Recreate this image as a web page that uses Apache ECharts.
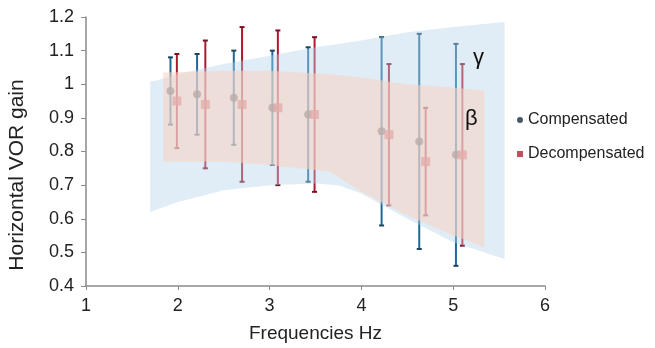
<!DOCTYPE html>
<html>
<head>
<meta charset="utf-8">
<script src="https://cdn.jsdelivr.net/npm/echarts@6/dist/echarts.min.js"></script>
<style>
  html, body { margin: 0; padding: 0; background: #fff; }
  #chart { width: 655px; height: 348px; }
</style>
</head>
<body>
<div id="chart"></div>
<script>
// error bars
const freqComp = [1.92, 2.21, 2.61, 3.03, 3.42, 4.22, 4.63, 5.03];
const meanComp = [0.98, 0.97, 0.96, 0.93, 0.91, 0.86, 0.83, 0.79];
const lowComp = [0.88, 0.85, 0.82, 0.76, 0.71, 0.58, 0.51, 0.46];
const highComp = [1.08, 1.09, 1.10, 1.10, 1.11, 1.14, 1.15, 1.12];

const freqDecomp = [1.99, 2.30, 2.70, 3.09, 3.49, 4.30, 4.70, 5.10];
const meanDecomp = [0.95, 0.94, 0.94, 0.93, 0.91, 0.85, 0.77, 0.79];
const lowDecomp = [0.81, 0.75, 0.71, 0.70, 0.68, 0.64, 0.61, 0.52];
const highDecomp = [1.09, 1.13, 1.17, 1.16, 1.14, 1.06, 0.93, 1.06];

// shaded bands (gamma = blue, beta = orange)
const gammaX = [1.70, 1.78, 2.0, 2.5, 3.0, 3.5, 3.75, 4.0, 4.5, 5.0, 5.56];
const gammaTop = [1.008, 1.012, 1.03, 1.06, 1.085, 1.11, 1.12, 1.13, 1.155, 1.17, 1.185];
const gammaBottom = [0.62, 0.628, 0.65, 0.685, 0.70, 0.705, 0.70, 0.675, 0.60, 0.53, 0.48];

const betaX = [1.84, 2.5, 3.0, 3.66, 4.0, 4.5, 5.0, 5.34];
const betaTop = [1.035, 1.04, 1.04, 1.03, 1.02, 1.0, 0.99, 0.98];
const betaBottom = [0.77, 0.77, 0.76, 0.74, 0.68, 0.61, 0.55, 0.515];

const xTicks = [1, 2, 3, 4, 5, 6];
const seriesNames = ['Compensated', 'Decompensated'];

const font = 'Liberation Sans';

function barData(xs, lows, highs) {
  return xs.map((x, i) => [x, lows[i], highs[i]]);
}

function renderErrorBar(color, capColor) {
  return function (params, api) {
    const x = api.value(0);
    const top = api.coord([x, api.value(2)]);
    const bot = api.coord([x, api.value(1)]);
    const cw = 2.5;
    return {
      type: 'group',
      children: [
        {type: 'line', shape: {x1: top[0], y1: top[1], x2: bot[0], y2: bot[1]},
          style: {stroke: color, lineWidth: 2}},
        {type: 'line', shape: {x1: top[0] - cw, y1: top[1], x2: top[0] + cw, y2: top[1]},
          style: {stroke: capColor, lineWidth: 2}},
        {type: 'line', shape: {x1: bot[0] - cw, y1: bot[1], x2: bot[0] + cw, y2: bot[1]},
          style: {stroke: capColor, lineWidth: 2}}
      ]
    };
  };
}

function renderBand(xs, tops, bottoms, fill) {
  return function (params, api) {
    if (params.dataIndex !== 0) return null;
    const pts = [];
    for (let i = 0; i < xs.length; i++) pts.push(api.coord([xs[i], tops[i]]));
    for (let i = xs.length - 1; i >= 0; i--) pts.push(api.coord([xs[i], bottoms[i]]));
    return {type: 'polygon', shape: {points: pts}, style: {fill: fill}};
  };
}

const chart = echarts.init(document.getElementById('chart'));
chart.setOption({
  animation: false,
  backgroundColor: '#fff',
  textStyle: {fontFamily: font},
  grid: {left: 86, right: 110, top: 17, bottom: 61},
  legend: {
    orient: 'vertical',
    left: 512,
    top: 107,
    itemGap: 18,
    itemWidth: 6,
    itemHeight: 6,
    textStyle: {fontSize: 16, color: '#222', fontFamily: font},
    data: [
      {name: seriesNames[0], icon: 'circle', itemStyle: {color: '#1c2a38'}},
      {name: seriesNames[1], icon: 'rect', itemStyle: {color: '#b3243a'}}
    ]
  },
  xAxis: {
    type: 'value',
    min: xTicks[0],
    max: xTicks[xTicks.length - 1],
    interval: 1,
    name: 'Frequencies Hz',
    nameLocation: 'middle',
    nameGap: 38,
    nameTextStyle: {fontSize: 19, color: '#222', fontFamily: font},
    axisLine: {lineStyle: {color: '#8a8a8a', width: 1.5}},
    axisTick: {show: true, length: 4, lineStyle: {color: '#8a8a8a'}},
    axisLabel: {fontSize: 18, color: '#222', margin: 11},
    splitLine: {show: false}
  },
  yAxis: {
    type: 'value',
    min: 0.4,
    max: 1.2,
    interval: 0.1,
    axisLine: {show: true, lineStyle: {color: '#8a8a8a', width: 1.5}},
    axisTick: {show: true, length: 5, lineStyle: {color: '#8a8a8a'}},
    axisLabel: {fontSize: 18, color: '#222', margin: 12,
      formatter: v => String(Math.round(v * 10) / 10)},
    splitLine: {show: false}
  },
  graphic: [
    {type: 'text', x: 17, y: 175, rotation: Math.PI / 2,
      style: {text: 'Horizontal VOR gain', fontSize: 21, fill: '#222', fontFamily: font,
        align: 'center', verticalAlign: 'middle'}},
    {type: 'text', x: 473, y: 47, z: 10, style: {text: 'γ', fontSize: 22, fill: '#111', fontFamily: font}},
    {type: 'text', x: 465, y: 108, z: 10, style: {text: 'β', fontSize: 22, fill: '#111', fontFamily: font}}
  ],
  series: [
    {
      name: seriesNames[0] + ' bars', type: 'custom', z: 2,
      renderItem: renderErrorBar('#1f6894', '#1a4660'),
      data: barData(freqComp, lowComp, highComp)
    },
    {
      name: seriesNames[1] + ' bars', type: 'custom', z: 2,
      renderItem: renderErrorBar('#b0182f', '#7a1020'),
      data: barData(freqDecomp, lowDecomp, highDecomp)
    },
    {
      name: seriesNames[0], type: 'scatter', z: 3, symbol: 'circle', symbolSize: 8,
      itemStyle: {color: '#3a3f44'},
      data: freqComp.map((x, i) => [x, meanComp[i]])
    },
    {
      name: seriesNames[1], type: 'scatter', z: 3, symbol: 'rect', symbolSize: 9,
      itemStyle: {color: '#d4424f'},
      data: freqDecomp.map((x, i) => [x, meanDecomp[i]])
    },
    {
      name: 'gamma', type: 'custom', z: 5, silent: true,
      renderItem: renderBand(gammaX, gammaTop, gammaBottom, 'rgba(180,210,234,0.42)'),
      data: gammaX.map((x, i) => [x, gammaTop[i]])
    },
    {
      name: 'beta', type: 'custom', z: 6, silent: true,
      renderItem: renderBand(betaX, betaTop, betaBottom, 'rgba(250,212,194,0.55)'),
      data: betaX.map((x, i) => [x, betaTop[i]])
    }
  ]
});
</script>
</body>
</html>
